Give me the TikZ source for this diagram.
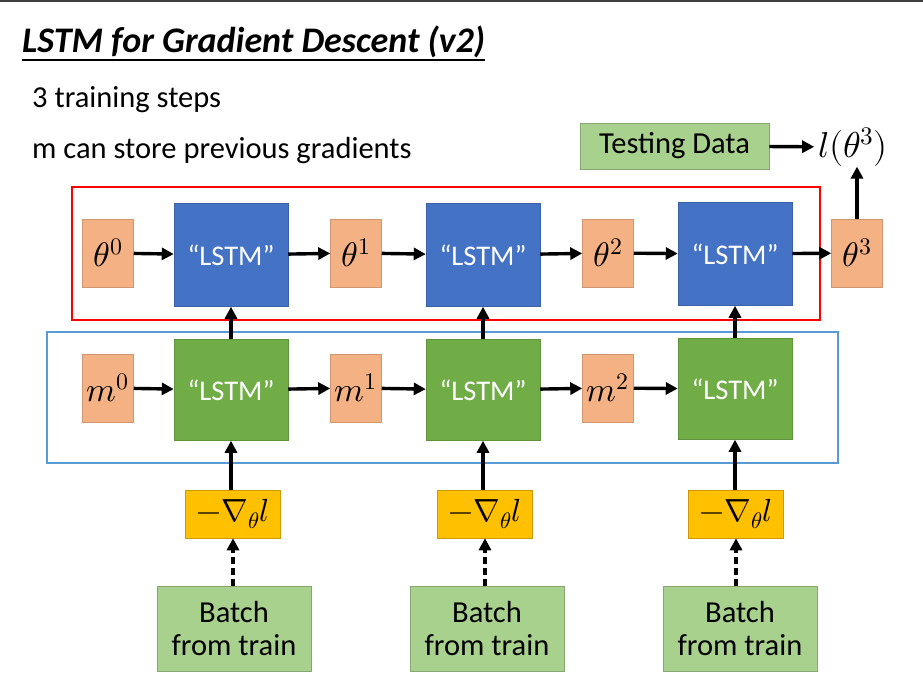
\documentclass[tikz,border=0pt]{standalone}
\usepackage{amsmath}
\usepackage{fontspec}
\usepackage{unicode-math}
\setmainfont{Carlito}
\setmathfont{Latin Modern Math}
\usetikzlibrary{arrows.meta}

\definecolor{paramcol}{HTML}{F4B183}
\definecolor{lstmblue}{HTML}{4472C4}
\definecolor{lstmgreen}{HTML}{70AD47}
\definecolor{datagreen}{HTML}{A9D18E}
\definecolor{gradcol}{HTML}{FFC000}
\definecolor{framered}{HTML}{FF0000}
\definecolor{frameblue}{HTML}{5B9BD5}

\tikzset{
  param/.style={fill=paramcol, draw=paramcol!85!black, line width=0.5,
    minimum width=51, minimum height=68, inner sep=0pt,
    font=\fontsize{34}{36}\selectfont},
  lstmtop/.style={fill=lstmblue, draw=lstmblue!85!black, line width=0.5,
    minimum width=114, minimum height=103, inner sep=0pt, text=white,
    font=\fontsize{28.5}{32}\selectfont},
  lstmbot/.style={lstmtop, fill=lstmgreen, draw=lstmgreen!85!black, minimum height=101},
  gradbox/.style={fill=gradcol, draw=gradcol!80!black, line width=0.5,
    minimum width=95, minimum height=48, inner sep=0pt,
    font=\fontsize{32}{34}\selectfont},
  databox/.style={fill=datagreen, draw=datagreen!80!black, line width=0.5,
    inner sep=0pt, align=center, font=\fontsize{30.5}{33}\selectfont},
  flow/.style={-{Triangle[length=12pt,width=12pt]}, line width=3.4},
}

\begin{document}
\begin{tikzpicture}[x=1pt, y=-1pt]
    \useasboundingbox (0,0) rectangle (923,690);
    \draw[line width=2, black!75] (0,1) -- (923,1);

    % heading and notes
    \node[anchor=base west, inner sep=0pt, font=\fontsize{36}{40}\selectfont\bfseries\itshape] (title) at (22,53) {LSTM for Gradient Descent (v2)};
    \draw[line width=1.4] ([yshift=-7pt]title.base west) -- ([yshift=-7pt]title.base east);
    \node[anchor=base west, inner sep=0pt, font=\fontsize{30.5}{34}\selectfont] (note1) at (32,108) {3 training steps};
    \node[anchor=base west, inner sep=0pt, font=\fontsize{30.5}{34}\selectfont] (note2) at (32,158) {m can store previous gradients};

    % frames
    \draw[framered, line width=2] (72,187) rectangle (820,320);
    \draw[frameblue, line width=2] (47,332) rectangle (838,463);

    % theta row
    \node[param] (t0) at (108,253) {$\theta^0$};
    \node[lstmtop] (u1) at (231,255) {“LSTM”};
    \node[param] (t1) at (356,253) {$\theta^1$};
    \node[lstmtop] (u2) at (483,255) {“LSTM”};
    \node[param] (t2) at (608,253) {$\theta^2$};
    \node[lstmtop] (u3) at (735,254) {“LSTM”};
    \node[param] (t3) at (857,253) {$\theta^3$};

    % m row
    \node[param] (m0) at (108,388) {$m^0$};
    \node[lstmbot] (v1) at (231,390) {“LSTM”};
    \node[param] (m1) at (356,388) {$m^1$};
    \node[lstmbot] (v2) at (483,390) {“LSTM”};
    \node[param] (m2) at (608,388) {$m^2$};
    \node[lstmbot] (v3) at (735,389) {“LSTM”};

    % gradients and batches
    \node[gradbox] (g1) at (233,514) {$-\nabla_\theta l$};
    \node[gradbox] (g2) at (485,514) {$-\nabla_\theta l$};
    \node[gradbox] (g3) at (736,514) {$-\nabla_\theta l$};
    \node[databox, minimum width=154, minimum height=85] (b1) at (234,629) {Batch\\from train};
    \node[databox, minimum width=154, minimum height=85] (b2) at (487,629) {Batch\\from train};
    \node[databox, minimum width=154, minimum height=85] (b3) at (740,629) {Batch\\from train};

    % testing
    \node[databox, minimum width=189, minimum height=46] (test) at (674.5,146) {Testing Data};
    \node[inner sep=0pt, font=\fontsize{36}{38}\selectfont] (loss) at (853,147) {$l(\theta^3)$};

    \draw[flow] (t0) -- (u1);
    \draw[flow] (u1) -- (t1);
    \draw[flow] (t1) -- (u2);
    \draw[flow] (u2) -- (t2);
    \draw[flow] (t2) -- (u3);
    \draw[flow] (u3) -- (t3);
    \draw[flow] (m0) -- (v1);
    \draw[flow] (v1) -- (m1);
    \draw[flow] (m1) -- (v2);
    \draw[flow] (v2) -- (m2);
    \draw[flow] (m2) -- (v3);
    \draw[flow] (v1) -- (u1);
    \draw[flow] (v2) -- (u2);
    \draw[flow] (v3) -- (u3);
    \draw[flow] (g1.north -| v1) -- (v1.south);
    \draw[flow] (g2.north -| v2) -- (v2.south);
    \draw[flow] (g3.north -| v3) -- (v3.south);
    \draw[flow, dash pattern=on 7pt off 4pt] (b1.north -| g1) -- (g1.south);
    \draw[flow, dash pattern=on 7pt off 4pt] (b2.north -| g2) -- (g2.south);
    \draw[flow, dash pattern=on 7pt off 4pt] (b3.north -| g3) -- (g3.south);
    \draw[flow, shorten >=4pt] (test) -- (loss);
    \draw[flow] (t3.north) -- (t3.north |- loss.south);
  \end{tikzpicture}
\end{document}
